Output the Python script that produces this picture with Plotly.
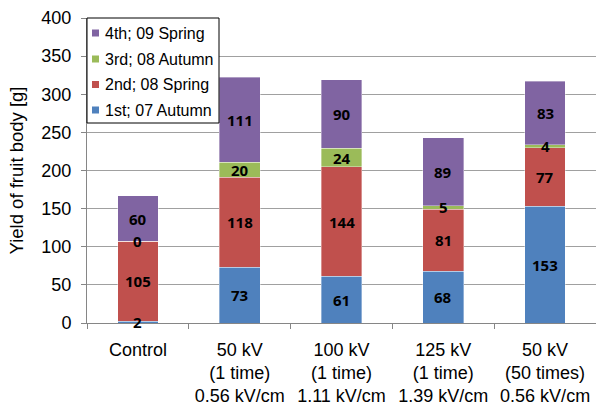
import plotly.graph_objects as go

categories = ["Control", "50 kV<br>(1 time)<br>0.56 kV/cm", "100 kV<br>(1 time)<br>1.11 kV/cm",
              "125 kV<br>(1 time)<br>1.39 kV/cm", "50 kV<br>(50 times)<br>0.56 kV/cm"]
series_names = ["1st; 07 Autumn", "2nd; 08 Spring", "3rd; 08 Autumn", "4th; 09 Spring"]
first = [2, 73, 61, 68, 153]
second = [105, 118, 144, 81, 77]
third = [0, 20, 24, 5, 4]
fourth = [60, 111, 90, 89, 83]
colors = ["#4F81BD", "#C0504D", "#9BBB59", "#8064A2"]
y_ticks = [0, 50, 100, 150, 200, 250, 300, 350, 400]

W, H = 596, 408
ML, MR, MT, MB = 87, 0, 18, 85
PW, PH = W - ML - MR, H - MT - MB


def px_x(p):
    return (p - ML) / PW


def px_y(p):
    return (H - MB - p) / PH


series = [first, second, third, fourth]
fig = go.Figure()
base = [0] * len(categories)
annotations = []
for i, (name, vals) in enumerate(zip(series_names, series)):
    fig.add_trace(go.Bar(
        x=categories, y=vals, name=name, showlegend=False,
        marker=dict(color=colors[i], line=dict(color="rgba(255,255,255,0.6)", width=0.6)),
    ))
    for j, v in enumerate(vals):
        annotations.append(dict(
            x=categories[j], y=base[j] + v / 2, text=str(v), showarrow=False,
            xref="x", yref="y",
            font=dict(family="Open Sans", size=15, color="black", weight="bold"),
        ))
        base[j] += v

# manual legend (reversed order, like the reference)
shapes = [dict(type="rect", xref="paper", yref="paper",
               x0=px_x(87), x1=px_x(219), y0=px_y(123), y1=px_y(18),
               fillcolor="white", line=dict(color="black", width=1), layer="above")]
row_centers = [33, 59, 84.5, 110]
for k, idx in enumerate(reversed(range(len(series_names)))):
    cy = row_centers[k]
    shapes.append(dict(type="rect", xref="paper", yref="paper",
                       x0=px_x(92), x1=px_x(99), y0=px_y(cy + 3.5), y1=px_y(cy - 3.5),
                       fillcolor=colors[idx], line=dict(width=0), layer="above"))
    annotations.append(dict(x=px_x(103), y=px_y(cy), xref="paper", yref="paper",
                            xanchor="left", yanchor="middle", showarrow=False,
                            text=series_names[idx],
                            font=dict(family="Liberation Sans, Arial", size=16, color="black")))

fig.update_layout(
    barmode="stack", bargap=0.6,
    width=W, height=H,
    margin=dict(l=ML, r=MR, t=MT, b=MB, autoexpand=False),
    paper_bgcolor="white", plot_bgcolor="white",
    font=dict(family="Liberation Sans, Arial", size=18, color="black"),
    annotations=annotations, shapes=shapes,
    showlegend=False,
)
fig.update_yaxes(
    range=[0, 400], tickvals=y_ticks, showgrid=True, gridcolor="#A0A0A0", gridwidth=1,
    showline=True, linecolor="#868686", linewidth=1, ticks="outside", ticklen=5,
    tickcolor="#868686", zeroline=False, automargin=False, ticklabelstandoff=6,
    title=dict(text="Yield of fruit body [g]", font=dict(size=18.5), standoff=12),
    tickfont=dict(size=18),
)
fig.update_xaxes(
    showline=True, linecolor="#868686", linewidth=1, ticks="outside", ticklen=5,
    tickcolor="#868686", tickson="boundaries", tickfont=dict(size=18), automargin=False,
    ticklabelstandoff=10,
)
fig.write_html("out.html", post_script="document.body.style.margin='0';",
               config={"displayModeBar": False})
